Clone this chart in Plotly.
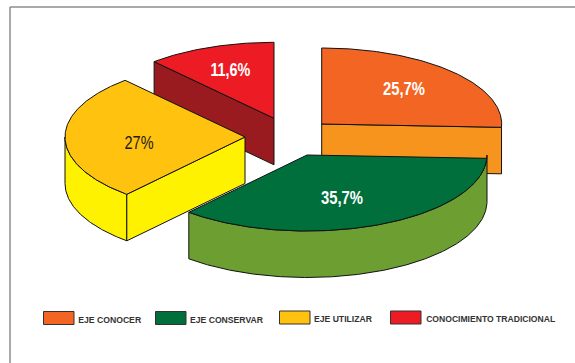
import numpy as np
import plotly.graph_objects as go

# Share of each axis, in percent
categories = ["EJE CONOCER", "EJE CONSERVAR", "EJE UTILIZAR", "CONOCIMIENTO TRADICIONAL"]
values = [25.7, 35.7, 27.0, 11.6]
value_labels = ["25,7%", "35,7%", "27%", "11,6%"]

top_colors = ["#F26522", "#006F3C", "#FFC20E", "#ED1C24"]
side_colors = ["#F7941D", "#6D9E31", "#FFF200", "#9A1B1F"]
label_colors = ["white", "white", "#1a1a1a", "white"]

# Projection of the exploded pie, in pixels
RX, RY, DEPTH = 180.0, 76.0, 46.5
apexes = {0: (321.7, 124.0), 1: (307.0, 155.0), 2: (245.0, 137.0), 3: (274.0, 118.3)}
label_pos = {0: (404, 88), 1: (342.3, 197), 2: (138.7, 142.7), 3: (230, 69)}
label_widths = [42, 42, 29, 40]
legend_boxes = [(43.5, 74, 311.5, 324.5), (155.5, 186, 311.5, 324.5),
                (279.5, 310, 311, 324), (390.5, 421, 311, 324)]
legend_text = [(78.3, 319), (190.3, 319), (314.3, 318.2), (425.7, 318.2)]
legend_widths = [63, 73, 58, 129]
OUTLINE = "#111111"
FONT = "Liberation Sans"

fig = go.Figure()


def rim(cx, cy, a0, a1, drop=0.0):
    """Points along the ellipse between two pie angles, clockwise from 12 o'clock."""
    t = np.radians(np.linspace(a0, a1, max(2, int(abs(a1 - a0)) * 2)))
    return cx + RX * np.sin(t), cy - RY * np.cos(t) + drop


def poly(xs, ys, fill, width=1.0):
    xs, ys = list(xs), list(ys)
    fig.add_trace(go.Scatter(
        x=xs + xs[:1], y=ys + ys[:1], mode="lines", fill="toself", fillcolor=fill,
        line=dict(color=OUTLINE, width=width), hoverinfo="skip", showlegend=False,
    ))


def radial_wall(cx, cy, angle, fill):
    ex, ey = rim(cx, cy, angle, angle)
    poly([cx, ex[0], ex[0], cx], [cy, ey[0], ey[0] + DEPTH, cy + DEPTH], fill)


def outer_wall(cx, cy, a0, a1, fill):
    x0, y0 = rim(cx, cy, a0, a1)
    x1, y1 = rim(cx, cy, a1, a0, DEPTH)
    poly(np.r_[x0, x1], np.r_[y0, y1], fill)


def top_face(cx, cy, a0, a1, fill):
    x, y = rim(cx, cy, a0, a1)
    poly(np.r_[cx, x], np.r_[cy, y], fill)


# Slice boundaries in degrees
edges = np.r_[0, np.cumsum(values)] * 3.6

# Back to front: tradition, knowledge, use, conservation
a0, a1 = edges[3], edges[4]
cx, cy = apexes[3]
radial_wall(cx, cy, a0, side_colors[3])
top_face(cx, cy, a0, a1, top_colors[3])

a0, a1 = edges[0], edges[1]
cx, cy = apexes[0]
radial_wall(cx, cy, a1, side_colors[0])
top_face(cx, cy, a0, a1, top_colors[0])

a0, a1 = edges[2], edges[3]
cx, cy = apexes[2]
outer_wall(cx, cy, a0, 270, side_colors[2])
radial_wall(cx, cy, a0, side_colors[2])
top_face(cx, cy, a0, a1, top_colors[2])

a0, a1 = edges[1], edges[2]
cx, cy = apexes[1]
outer_wall(cx, cy, 90, a1, side_colors[1])
top_face(cx, cy, a0, a1, top_colors[1])

for i, label in enumerate(value_labels):
    lx, ly = label_pos[i]
    fig.add_annotation(
        x=lx, y=ly, text=label, showarrow=False,
        font=dict(family=FONT, size=19, color=label_colors[i], weight=400 if i == 2 else 700),
    )

# Legend row; each text is centred on the middle of its run
for i, name in enumerate(categories):
    x0, x1, y0, y1 = legend_boxes[i]
    fig.add_shape(type="rect", x0=x0, x1=x1, y0=y0, y1=y1, fillcolor=top_colors[i],
                  line=dict(color="#333333", width=1))
    tx, ty = legend_text[i]
    fig.add_annotation(
        x=tx + legend_widths[i] / 2, y=ty, text=name, showarrow=False,
        font=dict(family=FONT, size=9.8, color="#333333", weight=700),
    )

# Frame runs along the top and left only
fig.add_shape(type="line", x0=10, x1=575, y0=7, y1=7, line=dict(color="#8c8c8c", width=1.5))
fig.add_shape(type="line", x0=10, x1=10, y0=7, y1=363, line=dict(color="#8c8c8c", width=1.5))

fig.update_layout(
    width=575, height=363, margin=dict(l=0, r=0, t=0, b=0),
    paper_bgcolor="white", plot_bgcolor="white", showlegend=False,
    xaxis=dict(range=[0, 575], visible=False, fixedrange=True),
    yaxis=dict(range=[363, 0], visible=False, fixedrange=True),
)

# The labels are set in a condensed cut: squeeze each text node to its run length
run_lengths = label_widths + legend_widths
condense = (
    "var w=" + str(run_lengths) + ";"
    "document.querySelectorAll('.annotation-text').forEach(function(t,i){"
    "t.setAttribute('textLength',w[i]);t.setAttribute('lengthAdjust','spacingAndGlyphs');});"
)
fig.write_html("out.html", config={"displayModeBar": False}, post_script=condense)
